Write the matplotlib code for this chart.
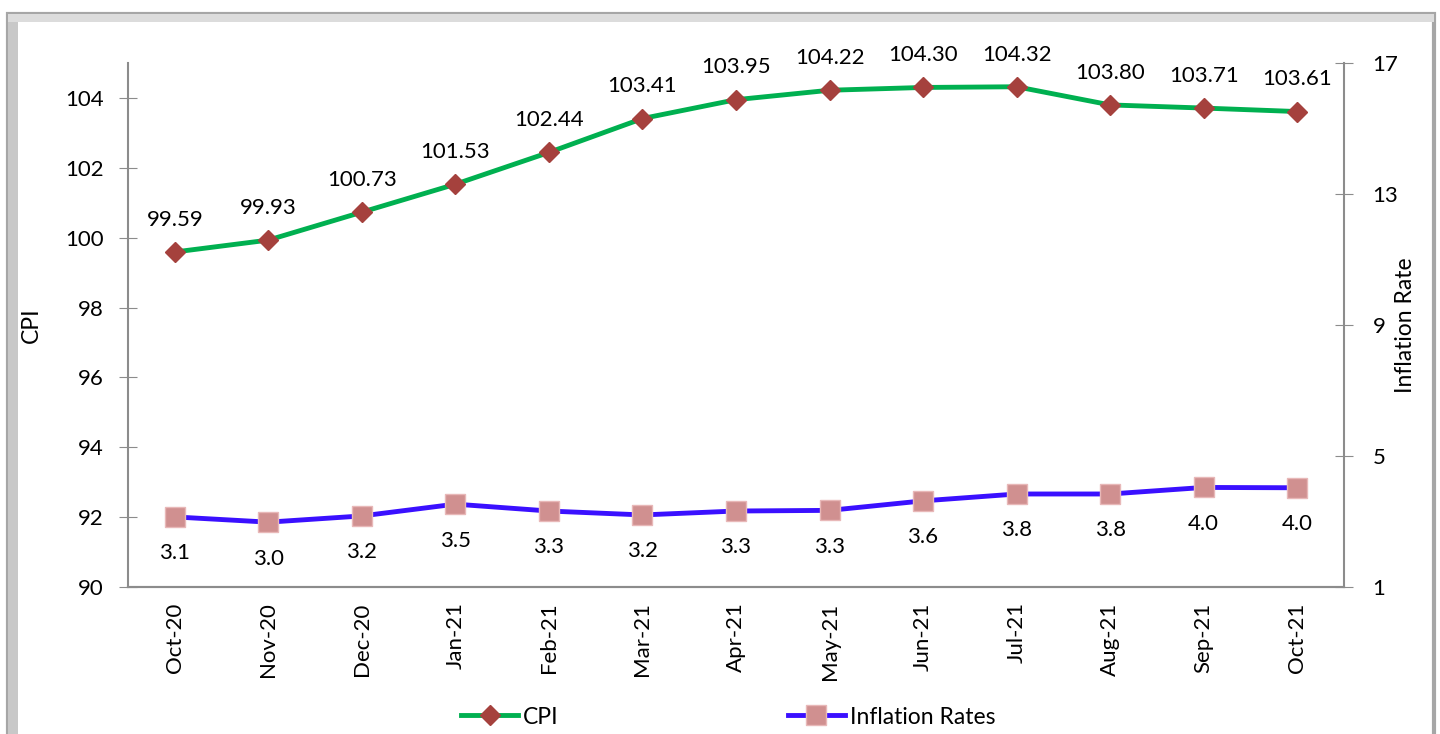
import matplotlib.pyplot as plt
from matplotlib.patches import Rectangle
import numpy as np

plt.rcParams['font.family'] = ['Lato', 'DejaVu Sans']

months = ['Oct-20', 'Nov-20', 'Dec-20', 'Jan-21', 'Feb-21', 'Mar-21', 'Apr-21',
          'May-21', 'Jun-21', 'Jul-21', 'Aug-21', 'Sep-21', 'Oct-21']
cpi = [99.59, 99.93, 100.73, 101.53, 102.44, 103.41, 103.95,
       104.22, 104.30, 104.32, 103.80, 103.71, 103.61]
inflation = [3.14, 2.98, 3.17, 3.53, 3.32, 3.20, 3.32,
             3.34, 3.63, 3.84, 3.84, 4.04, 4.03]

gray = '#8c8c8c'
fig = plt.figure(figsize=(14.4, 7.34), dpi=100)

# frame around the chart
fig.patches.append(Rectangle((8/1440, -0.05), 1426/1440, 1.05 - 14/734,
                             transform=fig.transFigure, fill=False,
                             edgecolor='#a6a6a6', linewidth=3, zorder=0))
fig.patches.append(Rectangle((8/1440, -0.05), 10/1440, 1.05 - 14/734,
                             transform=fig.transFigure, color='#c8c8c8',
                             linewidth=0, zorder=0))
fig.patches.append(Rectangle((8/1440, 1 - 22/734), 1426/1440, 8/734,
                             transform=fig.transFigure, color='#dcdcdc',
                             linewidth=0, zorder=0))

ax = fig.add_axes([128/1440, 1 - 587/734, (1344 - 128)/1440, 524/734])
ax2 = ax.twinx()
x = np.arange(len(months))

l1, = ax.plot(x, cpi, color='#00b050', linewidth=3.5, marker='D',
              markersize=10, markerfacecolor='#a5413d', markeredgecolor='#a5413d',
              zorder=3)
l2, = ax2.plot(x, inflation, color='#3a10ff', linewidth=3.5, marker='s',
               markersize=14, markerfacecolor='#d09090', markeredgecolor='#e8b8b8',
               zorder=3)

for xi, v in zip(x, cpi):
    ax.annotate('%.2f' % v, (xi, v), xytext=(0, 16), textcoords='offset points',
                ha='center', va='bottom', fontsize=16)
for xi, v in zip(x, inflation):
    ax2.annotate('%.1f' % v, (xi, v), xytext=(0, -19), textcoords='offset points',
                 ha='center', va='top', fontsize=16)

ax.set_xlim(-0.5, len(months) - 0.5)
ax.set_ylim(90, 105)
ax.set_yticks(np.arange(90, 105, 2))
ax2.set_ylim(1, 17)
ax2.set_yticks([1, 5, 9, 13, 17])

ax.set_xticks(x)
ax.set_xticklabels(months, rotation=90, fontsize=16)
ax.tick_params(axis='x', length=0, pad=11)
ax.tick_params(axis='y', direction='inout', length=13, color=gray, labelsize=16, pad=11)
ax2.tick_params(axis='y', direction='inout', length=13, color=gray, labelsize=16, pad=14)

for a in (ax, ax2):
    a.spines['top'].set_visible(False)
    for s in ('left', 'right', 'bottom'):
        a.spines[s].set_color(gray)
        a.spines[s].set_linewidth(1.5)
ax.spines['right'].set_visible(False)
ax2.spines['left'].set_visible(False)

ax.set_ylabel('CPI', fontsize=16.5)
ax.yaxis.set_label_coords(-0.0707, 0.5)
ax2.set_ylabel('Inflation Rate', fontsize=16.5)
ax2.yaxis.set_label_coords(1.042, 0.5)

fig.legend((l1, l2), ('CPI', 'Inflation Rates'), loc='center',
           bbox_to_anchor=(728/1440, 1 - 717/734), ncol=2, frameon=False,
           fontsize=16.5, columnspacing=10, handlelength=2.5, handletextpad=0.2)

fig.savefig('out.png', dpi=100)
